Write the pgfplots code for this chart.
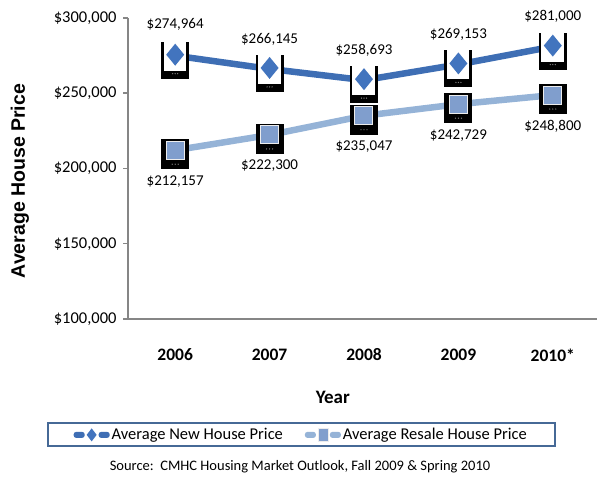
\documentclass[border=0pt]{standalone}
\usepackage{pgfplots}
\pgfplotsset{compat=1.18}
\usepackage{fontspec}
\setmainfont{Carlito}
\newfontfamily\labfont{Liberation Sans}
\definecolor{newblue}{RGB}{62,110,180}
\definecolor{diamblue}{RGB}{66,116,190}
\definecolor{resblue}{RGB}{149,179,215}
\definecolor{resmark}{RGB}{128,158,205}
\definecolor{axgray}{RGB}{134,134,134}
\definecolor{legblue}{RGB}{70,105,150}
\pgfdeclareplotmark{newbox}{%
  \pgfscope
  \pgfpathrectanglecorners{\pgfpoint{-14pt}{-23pt}}{\pgfpoint{14pt}{14pt}}%
  \pgfsetfillcolor{black}\pgfusepathqfill
  \pgfpathrectanglecorners{\pgfpoint{-11.5pt}{-15pt}}{\pgfpoint{11pt}{14pt}}%
  \pgfsetfillcolor{white}\pgfusepathqfill
  \pgfpathmoveto{\pgfpoint{0pt}{12pt}}\pgfpathlineto{\pgfpoint{9pt}{1pt}}%
  \pgfpathlineto{\pgfpoint{0pt}{-10pt}}\pgfpathlineto{\pgfpoint{-9pt}{1pt}}\pgfpathclose
  \pgfsetfillcolor{diamblue}\pgfusepathqfill
  \pgfpathcircle{\pgfpoint{-2.5pt}{-18pt}}{0.7pt}%
  \pgfpathcircle{\pgfpoint{0pt}{-18pt}}{0.7pt}%
  \pgfpathcircle{\pgfpoint{2.5pt}{-18pt}}{0.7pt}%
  \pgfsetfillcolor{gray}\pgfusepathqfill
  \endpgfscope
}
\pgfdeclareplotmark{resbox}{%
  \pgfscope
  \pgfpathrectanglecorners{\pgfpoint{-14pt}{-19pt}}{\pgfpoint{14pt}{11pt}}%
  \pgfsetfillcolor{black}\pgfusepathqfill
  \pgfpathrectanglecorners{\pgfpoint{-9pt}{-9pt}}{\pgfpoint{9pt}{9pt}}%
  \pgfsetfillcolor{resmark}\pgfsetstrokecolor{white!85!gray}\pgfsetlinewidth{1pt}\pgfusepath{fill,stroke}
  \pgfpathcircle{\pgfpoint{-3pt}{-14pt}}{0.7pt}%
  \pgfpathcircle{\pgfpoint{0pt}{-14pt}}{0.7pt}%
  \pgfpathcircle{\pgfpoint{3pt}{-14pt}}{0.7pt}%
  \pgfsetfillcolor{gray}\pgfusepathqfill
  \endpgfscope
}
\newcommand\lbl{\fontsize{15}{15}\selectfont}
\begin{document}
\begin{tikzpicture}[x=1pt,y=1pt]
\useasboundingbox (0,0) rectangle (597,481);
\begin{axis}[
  at={(128pt,162pt)}, anchor=south west, scale only axis,
  width=472pt, height=301pt,
  xmin=-0.5, xmax=4.5, ymin=100000, ymax=300000,
  axis x line=bottom, axis y line=left,
  axis line style={-, axgray, line width=1.5pt},
  clip=false, scaled y ticks=false,
  xtick={0,1,2,3,4}, xticklabels={2006,2007,2008,2009,2010*},
  minor xtick={0.5,1.5,2.5,3.5},
  xtick style={draw=none},
  minor tick length=6pt, major tick length=5pt,
  tick align=outside,
  minor x tick style={axgray, line width=1.5pt},
  ytick={100000,150000,200000,250000,300000},
  yticklabels={{\$100,000},{\$150,000},{\$200,000},{\$250,000},{\$300,000}},
  ytick style={axgray, line width=1.5pt},
  yticklabel style={font=\fontsize{16.5}{16.5}\selectfont, xshift=-3pt},
  xticklabel style={font=\bfseries\fontsize{17.5}{17.5}\selectfont, yshift=-21pt},
  xlabel={Year},
  xlabel style={at={(axis description cs:0.434,-0.259)}, anchor=center, font=\bfseries\fontsize{19}{19}\selectfont},
  ylabel={Average House Price},
  ylabel style={at={(axis description cs:-0.229,0.458)}, anchor=center, font=\labfont\bfseries\fontsize{19.5}{19.5}\selectfont},
  legend columns=2,
  legend style={at={(axis description cs:0.367,-0.385)}, anchor=center,
    draw=legblue, line width=2pt, fill=white, font=\fontsize{16.5}{16.5}\selectfont,
    inner xsep=26pt, inner ysep=3pt,
    /tikz/every even column/.append style={column sep=20pt}},
  legend cell align=left,
]
\addplot[newblue, line width=6.5pt, mark=newbox,
  legend image code/.code={
    \path[fill=newblue, draw=none, rounded corners=2.5pt] (0pt,-3pt) rectangle (11pt,3pt);
    \path[fill=newblue, draw=none, rounded corners=2.5pt] (25pt,-3pt) rectangle (36pt,3pt);
    \path[fill=diamblue, draw=none] (18pt,6.5pt) -- (23pt,0pt) -- (18pt,-6.5pt) -- (13pt,0pt) -- cycle;
  }] coordinates {(0,274964)(1,266145)(2,258693)(3,269153)(4,281000)};
\addlegendentry{Average New House Price}
\addplot[resblue, line width=6.5pt, mark=resbox,
  legend image code/.code={
    \path[fill=resblue, draw=none, rounded corners=2.5pt] (0pt,-3pt) rectangle (11pt,3pt);
    \path[fill=resblue, draw=none, rounded corners=2.5pt] (25pt,-3pt) rectangle (36pt,3pt);
    \path[fill=resmark, draw=white!85!gray, line width=0.6pt] (13pt,-6.5pt) rectangle (23pt,6.5pt);
  }] coordinates {(0,212157)(1,222300)(2,235047)(3,242729)(4,248800)};
\addlegendentry{Average Resale House Price}
\node[font=\lbl, yshift=31pt] at (axis cs:0,274964) {\$274,964};
\node[font=\lbl, yshift=30pt] at (axis cs:1,266145) {\$266,145};
\node[font=\lbl, yshift=30pt] at (axis cs:2,258693) {\$258,693};
\node[font=\lbl, yshift=30pt] at (axis cs:3,269153) {\$269,153};
\node[font=\lbl, yshift=30pt] at (axis cs:4,281000) {\$281,000};
\node[font=\lbl, yshift=-31pt] at (axis cs:0,212157) {\$212,157};
\node[font=\lbl, yshift=-31pt] at (axis cs:1,222300) {\$222,300};
\node[font=\lbl, yshift=-31pt] at (axis cs:2,235047) {\$235,047};
\node[font=\lbl, yshift=-31pt] at (axis cs:3,242729) {\$242,729};
\node[font=\lbl, yshift=-31pt] at (axis cs:4,248800) {\$248,800};
\end{axis}
\node[font=\fontsize{14.5}{14.5}\selectfont] at (300,14) {Source:\ \ CMHC Housing Market Outlook, Fall 2009 \& Spring 2010};
\end{tikzpicture}
\end{document}
